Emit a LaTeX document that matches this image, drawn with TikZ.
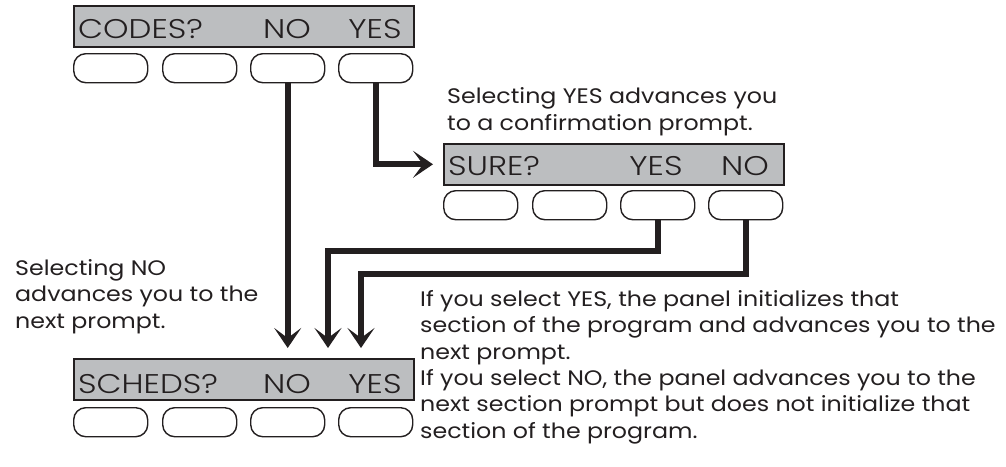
\documentclass[tikz,border=0pt]{standalone}
\usepackage{fontspec}
\setmainfont{Poppins}
\IfFontExistsTF{Poppins Light}
  {\newfontfamily\panelfont{Poppins Light}[FakeStretch=1.2]}
  {\newfontfamily\panelfont{Poppins}[FakeStretch=1.2]}
\newfontfamily\descfont{Poppins}[FakeStretch=1.13]
\usetikzlibrary{arrows.meta,calc,backgrounds}
\definecolor{ink}{HTML}{231F20}
\definecolor{lcd}{HTML}{BCBEC0}
\tikzset{
  panel/.style={draw=ink, fill=lcd, line width=1.6pt, minimum width=340pt, minimum height=41pt, inner sep=0pt, anchor=north west},
  btn/.style={draw=ink, fill=white, line width=1.4pt, rounded corners=12pt, minimum width=74pt, minimum height=29pt, inner sep=0pt, anchor=north west},
  ptxt/.style={font=\panelfont\fontsize{27}{27}\selectfont, text=ink, inner sep=0pt, anchor=base},
  desc/.style={font=\descfont\fontsize{21}{26.4}\selectfont, text=ink, inner sep=0pt, align=left, anchor=base west},
  conn/.style={draw=ink, line width=6pt, line join=miter, -{Stealth[length=20pt,width=27pt,inset=10pt]}},
}
\begin{document}
\begin{tikzpicture}[x=1pt,y=-1pt]
\useasboundingbox (0,0) rectangle (1006,466);
% CODES panel
\node[panel] (codes) at (73,5) {};
\node[ptxt, anchor=base west] (codesL) at (78,38) {CODES?};
\node[ptxt] (codesNo) at (287,38) {NO};
\node[ptxt] (codesYes) at (375,38) {YES};
\node[btn] (c1) at (73,53) {};
\node[btn] (c2) at (162,53) {};
\node[btn] (c3) at (250,53) {};
\node[btn] (c4) at (338,53) {};
% SURE panel
\node[panel] (sure) at (443,143) {};
\node[ptxt, anchor=base west] (sureL) at (448,175) {SURE?};
\node[ptxt] (sureYes) at (656,175) {YES};
\node[ptxt] (sureNo) at (745,175) {NO};
\node[btn] (s1) at (443,190) {};
\node[btn] (s2) at (532,190) {};
\node[btn] (s3) at (620,190) {};
\node[btn] (s4) at (708,190) {};
% SCHEDS panel
\node[panel] (sch) at (73,358) {};
\node[ptxt, anchor=base west] (schL) at (78,393) {SCHEDS?};
\node[ptxt] (schNo) at (287,393) {NO};
\node[ptxt] (schYes) at (375,393) {YES};
\node[btn] (h1) at (73,407) {};
\node[btn] (h2) at (162,407) {};
\node[btn] (h3) at (250,407) {};
\node[btn] (h4) at (338,407) {};
% landing points
\coordinate (t2) at (328,358);
\coordinate (t3) at (361,358);
% connectors
\begin{scope}[on background layer]
\draw[conn, shorten >=10pt] (c3.south) -- (c3.south |- sch.north);
\draw[conn, shorten >=10pt] (c4.south) |- (sure.west);
\draw[conn, shorten >=10pt] (s3.south) -- (s3.south |- 0,251) -| (t2);
\draw[conn, shorten >=10pt] (s4.south) -- (s4.south |- 0,274) -| (t3);
\end{scope}
% descriptions (base anchor = baseline of last line)
\node[desc] (dYes) at (447,130) {Selecting YES advances you\\to a confirmation prompt.};
\node[desc] (dNo) at (15,328) {Selecting NO\\advances you to the\\next prompt.};
\node[desc] (dSel1) at (420,359) {If you select YES, the panel initializes that\\section of the program and advances you to the\\next prompt.};
\node[desc] (dSel2) at (420,438) {If you select NO, the panel advances you to the\\next section prompt but does not initialize that\\section of the program.};
\end{tikzpicture}
\end{document}
